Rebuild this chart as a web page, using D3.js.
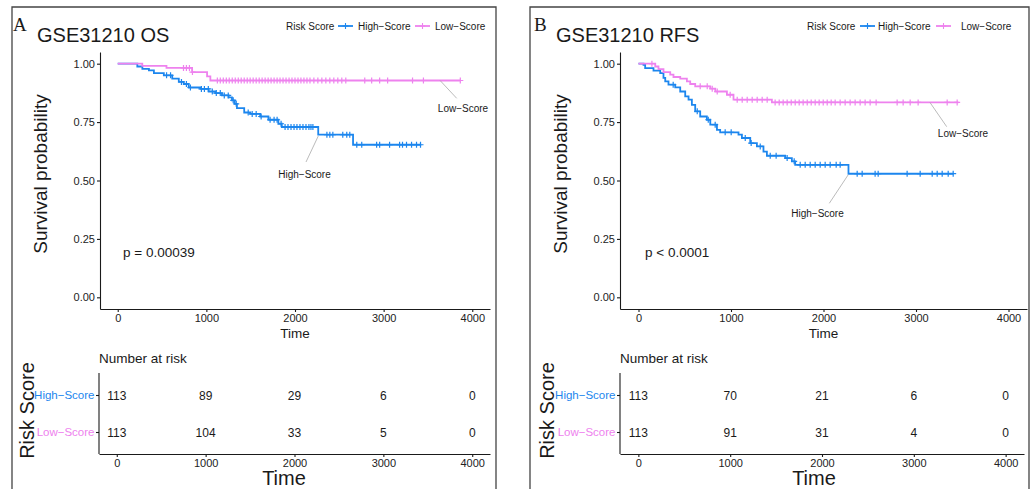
<!DOCTYPE html>
<html>
<head>
<meta charset="utf-8">
<script src="https://cdn.jsdelivr.net/npm/d3@7"></script>
<style>
  body { margin: 0; background: #fff; }
  text { font-family: "Liberation Sans", Arial, sans-serif; }
</style>
</head>
<body>
<script>
// Kaplan-Meier curves for GSE31210, OS (A) and RFS (B)

var timeTicks = [0, 1000, 2000, 3000, 4000];
var survTicks = [0, 0.25, 0.5, 0.75, 1];
var groups = ["High-Score", "Low-Score"];
var groupColors = ["#1c86ee", "#ee82ee"];

// [time, survival] at each step, last entry is end of follow-up
var osHighSteps = [[0,1],[221,0.988],[278,0.978],[352,0.971],[408,0.960],[520,0.950],[615,0.936],
  [689,0.922],[745,0.913],[801,0.898],[933,0.892],[1026,0.881],[1101,0.874],[1176,0.864],
  [1251,0.856],[1289,0.843],[1320,0.828],[1345,0.810],[1427,0.791],[1494,0.785],[1607,0.774],
  [1700,0.760],[1812,0.743],[1851,0.729],[2262,0.696],[2655,0.653],[3424,0.653]];
var osHighCensor = [551,596,719,775,820,944,978,1022,1067,1112,1157,1202,1247,1303,1337,1472,
  1517,1562,1618,1719,1764,1798,1843,1888,1921,1955,1989,2022,2056,2090,2124,2157,2180,2202,
  2360,2393,2427,2539,2584,2618,2697,2753,2921,2955,3067,3180,3213,3258,3315,3371,3416];

var osLowSteps = [[0,1],[277,0.991],[550,0.982],[839,0.964],[1008,0.946],[1045,0.928],[3865,0.928]];
var osLowCensor = [742,775,809,843,1124,1157,1191,1225,1258,1292,1326,1360,1393,1427,1461,1494,
  1528,1562,1596,1629,1663,1697,1730,1764,1798,1831,1865,1899,1933,1966,2000,2034,2067,2101,
  2135,2169,2213,2258,2303,2348,2393,2438,2483,2528,2573,2787,2865,2955,3045,3326,3449,3865];

var rfsHighSteps = [[0,1],[54,0.995],[72,0.981],[162,0.970],[235,0.960],[270,0.939],[289,0.924],
  [324,0.910],[397,0.899],[451,0.881],[505,0.860],[541,0.846],[577,0.824],[613,0.796],[667,0.774],
  [739,0.760],[776,0.739],[848,0.717],[883,0.706],[1081,0.696],[1118,0.682],[1208,0.660],
  [1280,0.646],[1351,0.624],[1388,0.606],[1586,0.596],[1658,0.582],[1694,0.567],[2270,0.529],
  [3405,0.529]];
var rfsHighCensor = [375,635,754,829,937,1002,1154,1218,1316,1424,1488,1607,1683,1748,1802,1856,
  1910,1964,2018,2072,2137,2180,2364,2418,2558,2591,2904,3045,3175,3229,3283,3348,3402];

var rfsLowSteps = [[0,1],[181,0.988],[216,0.977],[270,0.964],[343,0.953],[378,0.943],[451,0.936],
  [523,0.924],[559,0.913],[613,0.903],[776,0.893],[830,0.881],[956,0.867],[1027,0.846],
  [1442,0.834],[3459,0.834]];
var rfsLowCensor = [145,667,743,797,851,991,1067,1121,1175,1229,1283,1337,1391,1477,1521,1564,
  1607,1651,1694,1737,1780,1824,1867,1910,1953,1997,2040,2083,2126,2180,2234,2288,2342,2396,
  2450,2504,2569,2796,2861,2937,3023,3337,3445];

var osRiskHigh = [113, 89, 29, 6, 0];
var osRiskLow = [113, 104, 33, 5, 0];
var rfsRiskHigh = [113, 70, 21, 6, 0];
var rfsRiskLow = [113, 91, 31, 4, 0];

var panels = [
  { letter: "A", title: "GSE31210 OS", pval: "p = 0.00039",
    steps: [osHighSteps, osLowSteps], censor: [osHighCensor, osLowCensor],
    risk: [osRiskHigh, osRiskLow],
    box: [12, 7, 496], letterX: 13, titleX: 37,
    legendX: [286, 338, 358, 415, 435],
    plot: {left: 100, right: 490}, table: {left: 99, right: 490},
    yTitleX: 40, riskTitleX: 27, timeBigX: 284, pvalX: 123,
    labels: [
      {t: 2262, s: 0.69, ex: 306, ey: 162, tx: 304.5, ty: 174},
      {t: 3637, s: 0.928, ex: 456.7, ey: 98.3, tx: 463, ty: 108}
    ] },
  { letter: "B", title: "GSE31210 RFS", pval: "p < 0.0001",
    steps: [rfsHighSteps, rfsLowSteps], censor: [rfsHighCensor, rfsLowCensor],
    risk: [rfsRiskHigh, rfsRiskLow],
    box: [530, 7, 1029], letterX: 534, titleX: 556,
    legendX: [807, 860, 878, 936, 961],
    plot: {left: 620, right: 1027}, table: {left: 620, right: 1024},
    yTitleX: 560, riskTitleX: 547, timeBigX: 814, pvalX: 645,
    labels: [
      {t: 2268, s: 0.525, ex: 829.3, ey: 203.3, tx: 817.5, ty: 213.5},
      {t: 3151, s: 0.834, ex: 946.7, ey: 126.7, tx: 963, ty: 133.5}
    ] }
];

var svg = d3.select("body").append("svg")
  .attr("width", 1035).attr("height", 489);

var plotTop = 52, plotBottom = 309;
var tabTop = 373, tabBottom = 454;
var rowY = [395, 432];
var ink = "#1a1a1a";

function survAt(steps, t) {
  var i = d3.bisector(function(d) { return d[0]; }).right(steps, t) - 1;
  return steps[Math.max(i, 0)][1];
}

function plus(g, cx, cy, col, r, w) {
  g.append("path")
    .attr("d", "M" + (cx - r) + "," + cy + "H" + (cx + r) + "M" + cx + "," + (cy - r) + "V" + (cy + r))
    .attr("stroke", col).attr("stroke-width", w || 1.1).attr("fill", "none");
}

function styleAxis(a) {
  a.selectAll("path, line").attr("stroke", ink).attr("stroke-width", 1.1);
  a.selectAll("text").style("font-size", "11px")
    .style("font-family", "'Liberation Sans', Arial, sans-serif").style("fill", "#222");
}

panels.forEach(function(p) {
  var g = svg.append("g");

  // panel frame
  g.append("path")
    .attr("d", "M" + p.box[0] + ",495V" + p.box[1] + "H" + p.box[2] + "V495")
    .attr("fill", "none").attr("stroke", "#444").attr("stroke-width", 1.3);

  g.append("text").attr("x", p.letterX).attr("y", 31).style("fill", ink)
    .style("font-family", "'Liberation Serif', 'Times New Roman', serif")
    .style("font-size", "19px").text(p.letter);
  g.append("text").attr("x", p.titleX).attr("y", 42).style("fill", ink)
    .style("font-size", "20px").text(p.title);

  // legend
  g.append("text").attr("x", p.legendX[0]).attr("y", 29.5).style("fill", ink)
    .style("font-size", "10px").text("Risk Score");
  groups.forEach(function(name, i) {
    var kx = p.legendX[1 + i * 2];
    g.append("line").attr("x1", kx).attr("x2", kx + 15).attr("y1", 26).attr("y2", 26)
      .attr("stroke", groupColors[i]).attr("stroke-width", 1.8);
    plus(g, kx + 7.5, 26, groupColors[i], 3);
    g.append("text").attr("x", p.legendX[2 + i * 2]).attr("y", 29.5).style("fill", ink)
      .style("font-size", "10px").text(name.replace("-", "\u2212"));
  });

  // survival plot
  var x = d3.scaleLinear().domain([-200, 4200]).range([p.plot.left, p.plot.right]);
  var y = d3.scaleLinear().domain([-0.05, 1.05]).range([plotBottom, plotTop]);

  var xAxis = g.append("g").attr("transform", "translate(0," + plotBottom + ")")
    .call(d3.axisBottom(x).tickValues(timeTicks).tickFormat(d3.format("d"))
      .tickSize(3).tickPadding(2).tickSizeOuter(0));
  var yAxis = g.append("g").attr("transform", "translate(" + p.plot.left + ",0)")
    .call(d3.axisLeft(y).tickValues(survTicks).tickFormat(d3.format(".2f"))
      .tickSize(3).tickPadding(2).tickSizeOuter(0));
  styleAxis(xAxis);
  styleAxis(yAxis);

  g.append("text").attr("x", x(2000)).attr("y", 338).attr("text-anchor", "middle")
    .style("fill", ink).style("font-size", "13.5px").text("Time");
  g.append("text").attr("transform", "translate(" + (p.yTitleX + 7) + "," + 174 + ") rotate(-90)")
    .attr("text-anchor", "middle").style("fill", ink).style("font-size", "19px")
    .text("Survival probability");

  var line = d3.line().curve(d3.curveStepAfter)
    .x(function(d) { return x(d[0]); }).y(function(d) { return y(d[1]); });

  groups.forEach(function(name, i) {
    g.append("path").datum(p.steps[i]).attr("d", line)
      .attr("fill", "none").attr("stroke", groupColors[i]).attr("stroke-width", 1.8);
    p.censor[i].forEach(function(t) {
      plus(g, x(t), y(survAt(p.steps[i], t)), groupColors[i], 3, 1.2);
    });
  });

  // curve labels with leader lines
  p.labels.forEach(function(l, i) {
    g.append("line").attr("x1", x(l.t)).attr("y1", y(l.s)).attr("x2", l.ex).attr("y2", l.ey)
      .attr("stroke", "#aaa").attr("stroke-width", 0.8);
    g.append("text").attr("x", l.tx).attr("y", l.ty + 3.5).attr("text-anchor", "middle")
      .style("fill", ink).style("font-size", "10px").text(groups[i].replace("-", "\u2212"));
  });

  g.append("text").attr("x", p.pvalX).attr("y", 256.5).style("fill", ink)
    .style("font-size", "13.5px").text(p.pval);

  // number at risk table
  var xt = d3.scaleLinear().domain([-200, 4200]).range([p.table.left, p.table.right]);
  var yt = d3.scalePoint().domain(groups).range(rowY);

  g.append("text").attr("x", p.table.left).attr("y", 363).style("fill", ink)
    .style("font-size", "13.5px").text("Number at risk");

  var tx = g.append("g").attr("transform", "translate(0," + tabBottom + ")")
    .call(d3.axisBottom(xt).tickValues(timeTicks).tickFormat(d3.format("d"))
      .tickSize(3).tickPadding(2).tickSizeOuter(0));
  var ty = g.append("g").attr("transform", "translate(" + p.table.left + ",0)")
    .call(d3.axisLeft(yt).tickSize(3).tickPadding(1.5).tickSizeOuter(0)
      .tickFormat(function(d) { return d.replace("-", "\u2212"); }));
  ty.select(".domain").attr("d", "M0," + tabTop + "V" + tabBottom);
  styleAxis(tx);
  styleAxis(ty);
  ty.selectAll("text").style("font-size", "11.5px")
    .style("fill", function(d) { return groupColors[groups.indexOf(d)]; });

  groups.forEach(function(name, i) {
    g.selectAll(null).data(p.risk[i]).enter().append("text")
      .attr("x", function(d, j) { return xt(timeTicks[j]); })
      .attr("y", yt(name) + 4.5)
      .attr("text-anchor", "middle").style("fill", ink).style("font-size", "12px")
      .text(function(d) { return d; });
  });

  g.append("text").attr("x", p.timeBigX).attr("y", 485).attr("text-anchor", "middle")
    .style("fill", ink).style("font-size", "20px").text("Time");
  g.append("text").attr("transform", "translate(" + (p.riskTitleX + 7) + ",410.5) rotate(-90)")
    .attr("text-anchor", "middle").style("fill", ink).style("font-size", "20px").text("Risk Score");
});
</script>
</body>
</html>
